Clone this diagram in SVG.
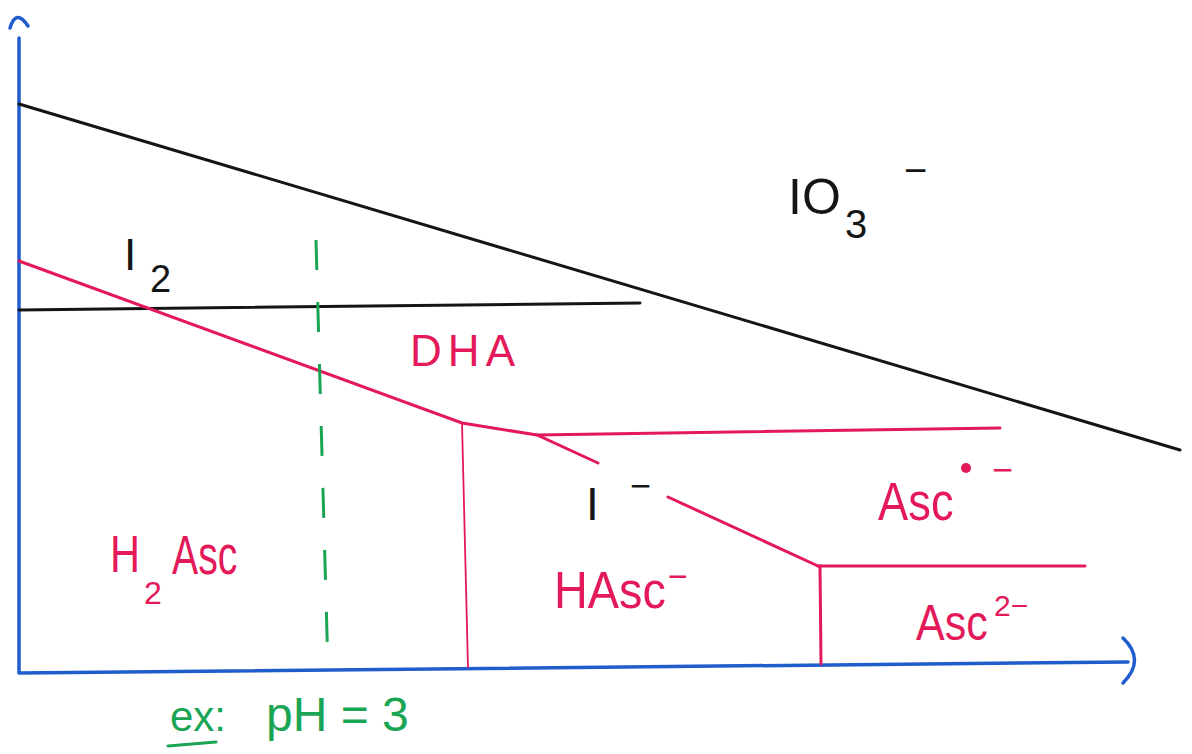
<svg xmlns="http://www.w3.org/2000/svg" width="1192" height="754" viewBox="0 0 1192 754">
<style>
.ax{stroke:#1f5ccc;stroke-width:3.5;fill:none;stroke-linecap:round;stroke-linejoin:round}
.bk{stroke:#151515;stroke-width:3;fill:none;stroke-linecap:round}
.rd{stroke:#e3195a;stroke-width:3;fill:none;stroke-linecap:round}
.rdt{stroke:#e3195a;stroke-width:1.8;fill:none}
.gd{stroke:#1aa554;stroke-width:3;fill:none;stroke-dasharray:30 32}
text{font-family:"Liberation Sans","DejaVu Sans",sans-serif}
.tb{fill:#151515}
.tr{fill:#e3195a}
.tg{fill:#1aa554}
</style>
<rect width="1192" height="754" fill="#ffffff"/>
<g id="connectors">
  <path class="ax" d="M19,38 L19,672"/>
  <path class="ax" d="M10,28 Q16,8 28,26"/>
  <path class="ax" d="M19,673 L1128,662"/>
  <path class="ax" d="M1123,638 Q1146,660 1123,683"/>
  <path class="bk" d="M19,104 L1180,450"/>
  <path class="bk" d="M19,310 L640,303"/>
  <path class="rd" d="M19,261 L462,423 L537,435 L598,463"/>
  <path class="rd" d="M537,435 L1000,428"/>
  <path class="rd" d="M668,497 L818,566"/>
  <path class="rd" d="M818,566 L1085,566"/>
  <path class="rdt" d="M462,423 L468,668"/>
  <path class="rd" d="M820,566 L821,664"/>
  <path class="gd" d="M316,240 L328,670"/>
</g>
<g id="IO3">
  <text class="tb" font-size="50"><tspan x="788" y="214">IO</tspan><tspan x="845" y="238" font-size="40">3</tspan><tspan x="904" y="184" font-size="40">−</tspan></text>
</g>
<g id="I2">
  <text class="tb" font-size="44"><tspan x="124" y="270">I</tspan><tspan x="150" y="292" font-size="38">2</tspan></text>
</g>
<g id="DHA">
  <text class="tr" x="410" y="366" font-size="44" textLength="105">DHA</text>
</g>
<g id="Iminus">
  <text class="tb" font-size="46"><tspan x="586" y="520">I</tspan><tspan x="630" y="498" font-size="36">−</tspan></text>
</g>
<g id="Asc_radical">
  <text class="tr" font-size="54" transform="translate(878,520) scale(0.84,1)">Asc</text>
  <text class="tr" x="992" y="482" font-size="36">−</text>
  <circle cx="966" cy="468" r="5" fill="#e3195a"/>
</g>
<g id="H2Asc">
  <text class="tr" x="110" y="572" font-size="52" transform="translate(110,572) scale(0.8,1) translate(-110,-572)">H</text>
  <text class="tr" x="144" y="604" font-size="32">2</text>
  <text class="tr" font-size="56" transform="translate(172,574) scale(0.7,1)">Asc</text>
</g>
<g id="HAsc">
  <text class="tr" font-size="52" transform="translate(554,608) scale(0.9,1)">HAsc</text>
  <text class="tr" x="668" y="588" font-size="34">−</text>
</g>
<g id="Asc2">
  <text class="tr" font-size="50" transform="translate(916,640) scale(0.86,1)">Asc</text>
  <text class="tr" x="994" y="616" font-size="30">2−</text>
</g>
<g id="pH_label">
  <text class="tg" x="170" y="731" font-size="42">ex:</text>
  <path d="M168,746 L216,742" stroke="#1aa554" stroke-width="3" stroke-linecap="round"/>
  <text class="tg" x="266" y="731" font-size="48">pH = 3</text>
</g>
</svg>
